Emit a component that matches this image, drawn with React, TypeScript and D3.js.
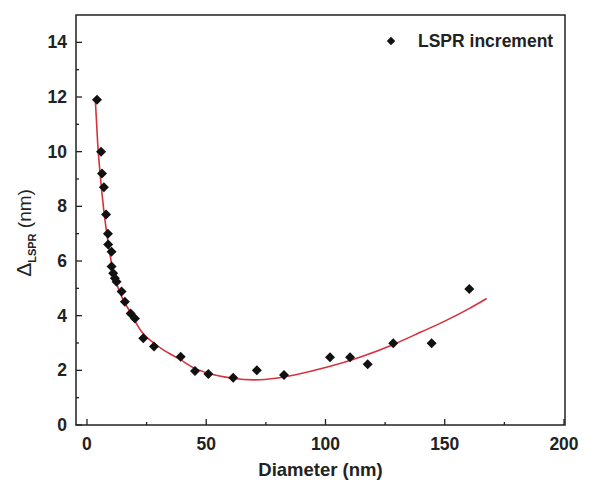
import React from "react";
import * as d3 from "d3";

const pointX = [4.2, 5.9, 6.3, 7.1, 8.0, 8.8, 8.9, 10.3, 10.3, 11.0, 11.7, 12.4, 14.5, 15.9, 18.3, 20.1, 23.6, 28.1, 39.3, 45.3, 50.9, 61.3, 71.2, 82.6, 101.9, 110.3, 117.7, 128.4, 144.5, 160.3];
const pointY = [11.9, 10.0, 9.2, 8.7, 7.7, 7.0, 6.6, 6.34, 5.8, 5.55, 5.37, 5.24, 4.88, 4.51, 4.08, 3.9, 3.17, 2.87, 2.5, 1.98, 1.87, 1.73, 2.0, 1.83, 2.48, 2.48, 2.22, 2.99, 2.99, 4.98];

const fitX = [3.5, 4.5, 5.5, 7, 9, 11, 14, 18, 23, 28, 32, 39, 45, 51, 61, 70, 80, 87, 100, 115, 128, 140, 150, 160, 167.6];
const fitY = [11.9, 10.3, 9.2, 7.9, 6.6, 5.6, 4.8, 4.15, 3.4, 3.0, 2.75, 2.4, 2.08, 1.89, 1.71, 1.65, 1.72, 1.83, 2.1, 2.5, 2.93, 3.4, 3.8, 4.25, 4.63];

const xMajor = [0, 50, 100, 150, 200];
const xMinor = [25, 75, 125, 175];
const yMajor = [0, 2, 4, 6, 8, 10, 12, 14];
const yMinor = [1, 3, 5, 7, 9, 11, 13];

const legendLabel = "LSPR increment";
const xTitle = "Diameter (nm)";

const W = 616, H = 491;
const L = 76, R = 565, T = 15, B = 425;
const FONT = "'Liberation Sans', Arial, sans-serif";

const dia = (r: number) => `M0,${-r}L${r},0L0,${r}L${-r},0Z`;

export default function App() {
  const x = d3.scaleLinear().domain([-4.6, 200]).range([L, R - 1]);
  const y = d3.scaleLinear().domain([0, 15]).range([B, T]);
  const line = d3.line<number>().x((_, i) => x(fitX[i])).y((d) => y(d)).curve(d3.curveMonotoneX);
  const col = "#222";
  return (
    <svg width={W} height={H} style={{ position: "absolute", left: 0, top: 0, background: "#fff" }}>
      <rect x={L} y={T} width={R - L} height={B - T} fill="none" stroke={col} strokeWidth={1.5} />
      {xMajor.map((v) => (
        <g key={"xm" + v}>
          <line x1={x(v)} x2={x(v)} y1={B} y2={B - 6} stroke={col} strokeWidth={1.3} />
          <text x={x(v)} y={B + 25} textAnchor="middle" fontFamily={FONT} fontWeight="bold" fontSize={17.5} fill="#222">{v}</text>
        </g>
      ))}
      {xMinor.map((v) => (
        <line key={"xn" + v} x1={x(v)} x2={x(v)} y1={B} y2={B - 3} stroke={col} strokeWidth={1.3} />
      ))}
      {yMajor.map((v) => (
        <g key={"ym" + v}>
          <line x1={L} x2={L + 6} y1={y(v)} y2={y(v)} stroke={col} strokeWidth={1.3} />
          <text x={L - 9} y={y(v) + 6} textAnchor="end" fontFamily={FONT} fontWeight="bold" fontSize={17.5} fill="#222">{v}</text>
        </g>
      ))}
      {yMinor.map((v) => (
        <line key={"yn" + v} x1={L} x2={L + 3} y1={y(v)} y2={y(v)} stroke={col} strokeWidth={1.3} />
      ))}
      <path d={line(fitY) || ""} fill="none" stroke="#d8303c" strokeWidth={1.6} />
      {pointX.map((v, i) => (
        <path key={"p" + i} d={dia(5)} transform={`translate(${x(v)},${y(pointY[i])})`} fill="#111" />
      ))}
      <path d={dia(4.2)} transform="translate(391,41)" fill="#111" />
      <text x={418} y={47} fontFamily={FONT} fontWeight="bold" fontSize={17.5} fill="#222">{legendLabel}</text>
      <text x={(L + R) / 2} y={476} textAnchor="middle" fontFamily={FONT} fontWeight="bold" fontSize={18.5} fill="#222">{xTitle}</text>
      <text transform={`translate(31,${233}) rotate(-90)`} textAnchor="middle" fontFamily={FONT} fontSize={19} fill="#222">
        <tspan fontSize={21}>Δ</tspan>
        <tspan fontSize={11} fontWeight="bold" dy={5}>LSPR</tspan>
        <tspan dy={-5}> (nm)</tspan>
      </text>
    </svg>
  );
}
